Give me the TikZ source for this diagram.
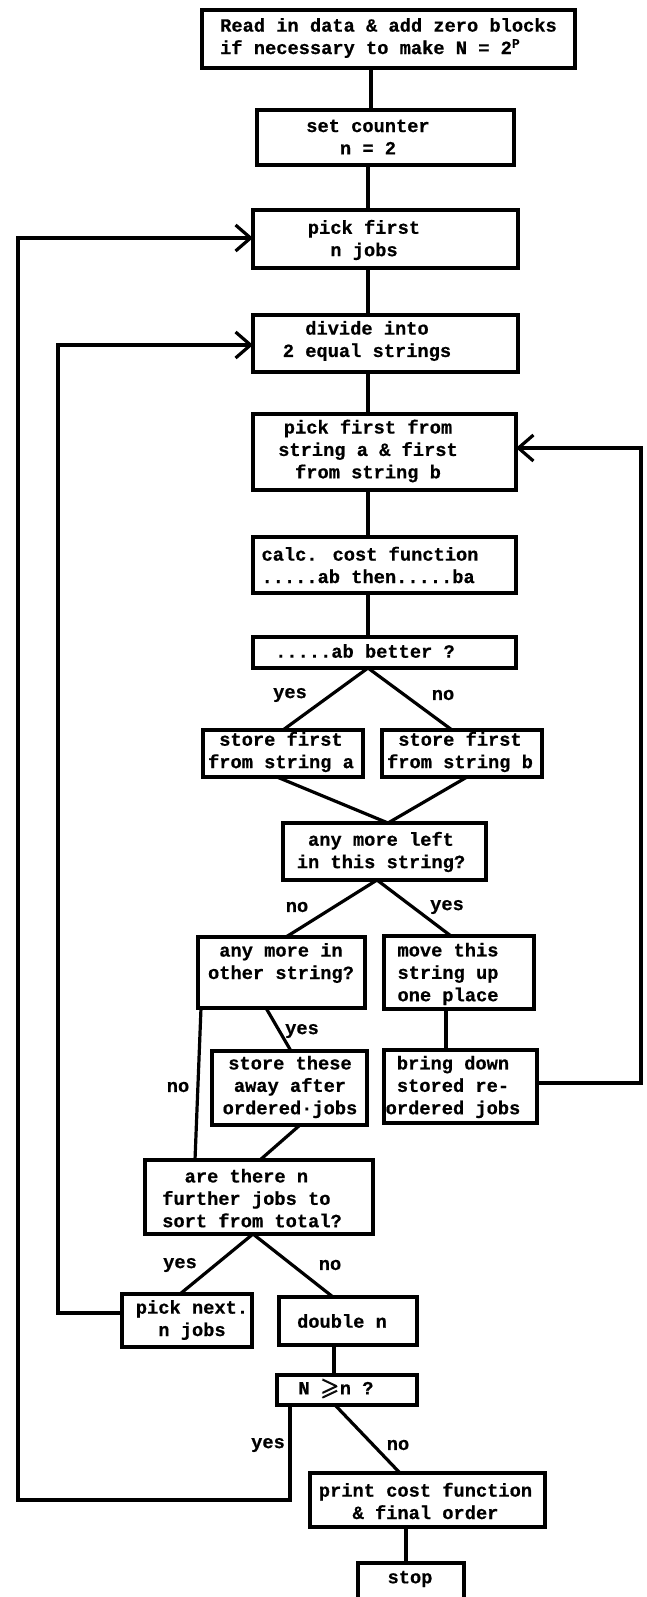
\documentclass[tikz,border=0pt]{standalone}
\usepackage{fontspec}
\usepackage{amsmath}
\usepackage{amssymb}
\newfontfamily\tw{Liberation Mono}[BoldFeatures={FakeBold=0.6}]
\usetikzlibrary{arrows.meta}
\tikzset{
  box/.style={draw, line width=3.2pt, rectangle, inner sep=0pt, outer sep=0pt},
  txt/.style={font=\tw\bfseries\fontsize{18.7}{22.4}\selectfont, inner sep=0pt, align=center},
  lbl/.style={font=\tw\bfseries\fontsize{18.7}{22.4}\selectfont, inner sep=0pt},
  conn/.style={line width=3.2pt},
  arr/.style={conn, -{Straight Barb[length=15pt,width=26pt]}},
}
\newcommand\bx[5]{\node[box, minimum width={#4-#2}, minimum height={#5-#3}] (#1) at ({(#2+#4)/2},{(#3+#5)/2}) {};}
\begin{document}
\begin{tikzpicture}[x=1pt, y=-1pt]
\useasboundingbox (0,0) rectangle (646,1597);
% boxes
\bx{read}{202}{10}{575}{68}
\bx{counter}{257}{110}{514}{165}
\bx{pick}{253}{210}{518}{268}
\bx{divide}{253}{315}{518}{372}
\bx{pf}{253}{414}{516}{490}
\bx{calc}{253}{537}{516}{593}
\bx{better}{253}{637}{516}{668}
\bx{sa}{203}{730}{363}{777}
\bx{sb}{382}{730}{542}{777}
\bx{any}{283}{823}{486}{880}
\bx{other}{198}{937}{365}{1008}
\bx{move}{384}{936}{534}{1009}
\bx{these}{212}{1051}{367}{1125}
\bx{bring}{384}{1050}{537}{1123}
\bx{are}{145}{1160}{373}{1234}
\bx{next}{122}{1294}{252}{1347}
\bx{double}{279}{1297}{417}{1345}
\bx{cmp}{277}{1375}{417}{1405}
\bx{print}{310}{1473}{545}{1527}
\bx{stop}{358}{1563}{464}{1612}
% texts
\node[txt, align=left] (read-t) at (388.5,38) {Read in data \& add zero blocks\\if necessary to make N = 2\textsuperscript{P}};
\node[txt] (counter-t) at (368,137) {set counter\\n = 2};
\node[txt] (pick-t) at (364,240) {pick first\\n jobs};
\node[txt] (divide-t) at (367,341) {divide into\\2 equal strings};
\node[txt] (pf-t) at (368,451) {pick first from\\string a \& first\\from string b};
\node[txt, align=left] (calc-t) at (370,565) {calc. cost function\\.....ab then.....ba};
\node[txt] (better-t) at (365,651) {.....ab better ?};
\node[txt] (sa-t) at (281,752) {store first\\from string a};
\node[txt] (sb-t) at (460,752) {store first\\from string b};
\node[txt] (any-t) at (381,852) {any more left\\in this string?};
\node[txt] (other-t) at (281,963) {any more in\\other string?};
\node[txt, align=left] (move-t) at (448,974) {move this\\string up\\one place};
\node[txt] (these-t) at (290,1087) {store these\\away after\\ordered·jobs};
\node[txt] (bring-t) at (453,1087) {bring down\\stored re-\\ordered jobs};
\node[txt, align=left] (are-t) at (252,1198) {\phantom{fu}are there n\\further jobs to\\sort from total?};
\node[txt] (next-t) at (192,1320) {pick next.\\n jobs};
\node[txt] (double-t) at (342,1321) {double n};
\node[txt] (cmp-t) at (336,1389) {N \raisebox{-1pt}{\scalebox{1.3}{$\pmb{\geqslant}$}}n ?};
\node[txt] (print-t) at (425.5,1501) {print cost function\\\& final order};
\node[txt] (stop-t) at (410,1579) {stop};
% labels
\node[lbl] (l1) at (290,695) {yes};
\node[lbl] (l2) at (443,695) {no};
\node[lbl] (l3) at (297,907) {no};
\node[lbl] (l4) at (447,907) {yes};
\node[lbl] (l5) at (302,1031) {yes};
\node[lbl] (l6) at (178,1087) {no};
\node[lbl] (l7) at (180,1265) {yes};
\node[lbl] (l8) at (330,1265) {no};
\node[lbl] (l9) at (268,1445) {yes};
\node[lbl] (l10) at (398,1445) {no};
% helper coordinates
\coordinate (cin) at (58,800);
\coordinate (cout) at (18,1500);
\coordinate (cright) at (641,800);
% connectors
\draw[conn] ([xshift=-17.5pt]read.south) -- ([xshift=-14.5pt]counter.north);
\draw[conn] ([xshift=-17.5pt]counter.south) -- ([xshift=-17.5pt]pick.north);
\draw[conn] ([xshift=-17.5pt]pick.south) -- ([xshift=-17.5pt]divide.north);
\draw[conn] ([xshift=-17.5pt]divide.south) -- ([xshift=-16.5pt]pf.north);
\draw[conn] ([xshift=-16.5pt]pf.south) -- ([xshift=-16.5pt]calc.north);
\draw[conn] ([xshift=-16.5pt]calc.south) -- ([xshift=-16.5pt]better.north);
\draw[conn] ([xshift=-16.5pt]better.south) -- (sa.north);
\draw[conn] ([xshift=-16.5pt]better.south) -- ([xshift=-10pt]sb.north);
\draw[conn] ([xshift=-6pt]sa.south) -- ([xshift=3.5pt]any.north);
\draw[conn] ([xshift=5pt]sb.south) -- ([xshift=3.5pt]any.north);
\draw[conn] ([xshift=-7.5pt]any.south) -- ([xshift=4.5pt]other.north);
\draw[conn] ([xshift=-7.5pt]any.south) -- ([xshift=-8pt]move.north);
\draw[conn] ([xshift=-15.5pt]other.south) -- ([xshift=1.5pt]these.north);
\draw[conn] ([xshift=3pt]other.south west) -- ([xshift=50pt]are.north west);
\draw[conn] ([xshift=-13pt]move.south) -- ([xshift=-14.5pt]bring.north);
\draw[arr] ([yshift=3.5pt]bring.east) -| (cright) |- ([yshift=4pt]pf.east);
\draw[conn] ([xshift=10.5pt]these.south) -- ([xshift=1pt]are.north);
\draw[conn] ([xshift=-6pt]are.south) -- ([xshift=-7pt]next.north);
\draw[conn] ([xshift=-6pt]are.south) -- ([xshift=-15pt]double.north);
\draw[arr] ([yshift=7.5pt]next.west) -| (cin) |- ([yshift=-1.5pt]divide.west);
\draw[conn] ([xshift=-14pt]double.south) -- ([xshift=-13pt]cmp.north);
\draw[arr] ([xshift=-57pt]cmp.south) |- (cout) |- ([yshift=1pt]pick.west);
\draw[conn] ([xshift=-12pt]cmp.south) -- ([xshift=-27.5pt]print.north);
\draw[conn] ([xshift=-21.5pt]print.south) -- ([xshift=-5pt]stop.north);
\end{tikzpicture}
\end{document}
